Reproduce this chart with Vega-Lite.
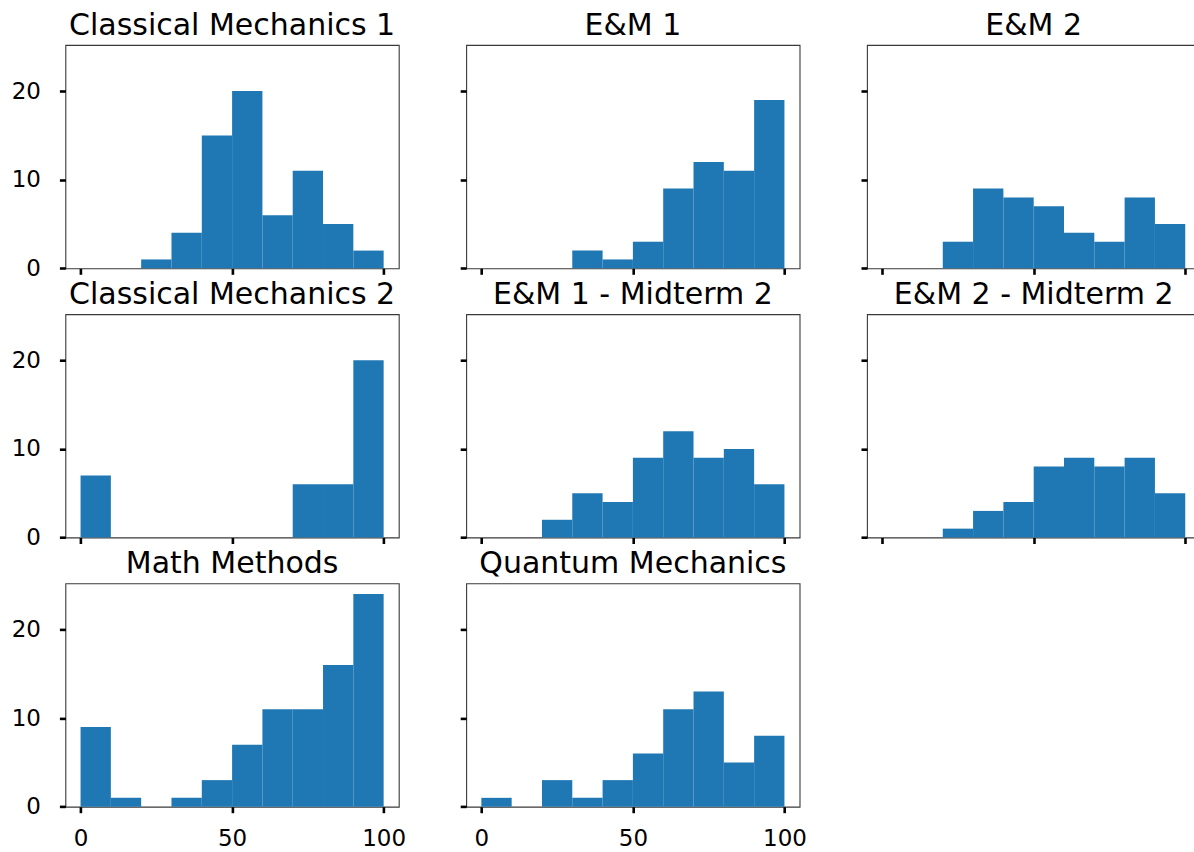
{
  "$schema": "https://vega.github.io/schema/vega-lite/v6.json",
  "padding": {"left": 10.4, "top": 10, "right": 0, "bottom": 0},
  "background": "white",
  "bounds": "flush",
  "columns": 3,
  "spacing": {"row": 45.2, "column": 66.8},
  "data": {
    "values": [
      {"course": "Classical Mechanics 1", "bin_start": 20, "bin_end": 30, "count": 1},
      {"course": "Classical Mechanics 1", "bin_start": 30, "bin_end": 40, "count": 4},
      {"course": "Classical Mechanics 1", "bin_start": 40, "bin_end": 50, "count": 15},
      {"course": "Classical Mechanics 1", "bin_start": 50, "bin_end": 60, "count": 20},
      {"course": "Classical Mechanics 1", "bin_start": 60, "bin_end": 70, "count": 6},
      {"course": "Classical Mechanics 1", "bin_start": 70, "bin_end": 80, "count": 11},
      {"course": "Classical Mechanics 1", "bin_start": 80, "bin_end": 90, "count": 5},
      {"course": "Classical Mechanics 1", "bin_start": 90, "bin_end": 100, "count": 2},
      {"course": "E&M 1", "bin_start": 30, "bin_end": 40, "count": 2},
      {"course": "E&M 1", "bin_start": 40, "bin_end": 50, "count": 1},
      {"course": "E&M 1", "bin_start": 50, "bin_end": 60, "count": 3},
      {"course": "E&M 1", "bin_start": 60, "bin_end": 70, "count": 9},
      {"course": "E&M 1", "bin_start": 70, "bin_end": 80, "count": 12},
      {"course": "E&M 1", "bin_start": 80, "bin_end": 90, "count": 11},
      {"course": "E&M 1", "bin_start": 90, "bin_end": 100, "count": 19},
      {"course": "E&M 2", "bin_start": 20, "bin_end": 30, "count": 3},
      {"course": "E&M 2", "bin_start": 30, "bin_end": 40, "count": 9},
      {"course": "E&M 2", "bin_start": 40, "bin_end": 50, "count": 8},
      {"course": "E&M 2", "bin_start": 50, "bin_end": 60, "count": 7},
      {"course": "E&M 2", "bin_start": 60, "bin_end": 70, "count": 4},
      {"course": "E&M 2", "bin_start": 70, "bin_end": 80, "count": 3},
      {"course": "E&M 2", "bin_start": 80, "bin_end": 90, "count": 8},
      {"course": "E&M 2", "bin_start": 90, "bin_end": 100, "count": 5},
      {"course": "Classical Mechanics 2", "bin_start": 0, "bin_end": 10, "count": 7},
      {"course": "Classical Mechanics 2", "bin_start": 70, "bin_end": 80, "count": 6},
      {"course": "Classical Mechanics 2", "bin_start": 80, "bin_end": 90, "count": 6},
      {"course": "Classical Mechanics 2", "bin_start": 90, "bin_end": 100, "count": 20},
      {"course": "E&M 1 - Midterm 2", "bin_start": 20, "bin_end": 30, "count": 2},
      {"course": "E&M 1 - Midterm 2", "bin_start": 30, "bin_end": 40, "count": 5},
      {"course": "E&M 1 - Midterm 2", "bin_start": 40, "bin_end": 50, "count": 4},
      {"course": "E&M 1 - Midterm 2", "bin_start": 50, "bin_end": 60, "count": 9},
      {"course": "E&M 1 - Midterm 2", "bin_start": 60, "bin_end": 70, "count": 12},
      {"course": "E&M 1 - Midterm 2", "bin_start": 70, "bin_end": 80, "count": 9},
      {"course": "E&M 1 - Midterm 2", "bin_start": 80, "bin_end": 90, "count": 10},
      {"course": "E&M 1 - Midterm 2", "bin_start": 90, "bin_end": 100, "count": 6},
      {"course": "E&M 2 - Midterm 2", "bin_start": 20, "bin_end": 30, "count": 1},
      {"course": "E&M 2 - Midterm 2", "bin_start": 30, "bin_end": 40, "count": 3},
      {"course": "E&M 2 - Midterm 2", "bin_start": 40, "bin_end": 50, "count": 4},
      {"course": "E&M 2 - Midterm 2", "bin_start": 50, "bin_end": 60, "count": 8},
      {"course": "E&M 2 - Midterm 2", "bin_start": 60, "bin_end": 70, "count": 9},
      {"course": "E&M 2 - Midterm 2", "bin_start": 70, "bin_end": 80, "count": 8},
      {"course": "E&M 2 - Midterm 2", "bin_start": 80, "bin_end": 90, "count": 9},
      {"course": "E&M 2 - Midterm 2", "bin_start": 90, "bin_end": 100, "count": 5},
      {"course": "Math Methods", "bin_start": 0, "bin_end": 10, "count": 9},
      {"course": "Math Methods", "bin_start": 10, "bin_end": 20, "count": 1},
      {"course": "Math Methods", "bin_start": 30, "bin_end": 40, "count": 1},
      {"course": "Math Methods", "bin_start": 40, "bin_end": 50, "count": 3},
      {"course": "Math Methods", "bin_start": 50, "bin_end": 60, "count": 7},
      {"course": "Math Methods", "bin_start": 60, "bin_end": 70, "count": 11},
      {"course": "Math Methods", "bin_start": 70, "bin_end": 80, "count": 11},
      {"course": "Math Methods", "bin_start": 80, "bin_end": 90, "count": 16},
      {"course": "Math Methods", "bin_start": 90, "bin_end": 100, "count": 24},
      {"course": "Quantum Mechanics", "bin_start": 0, "bin_end": 10, "count": 1},
      {"course": "Quantum Mechanics", "bin_start": 20, "bin_end": 30, "count": 3},
      {"course": "Quantum Mechanics", "bin_start": 30, "bin_end": 40, "count": 1},
      {"course": "Quantum Mechanics", "bin_start": 40, "bin_end": 50, "count": 3},
      {"course": "Quantum Mechanics", "bin_start": 50, "bin_end": 60, "count": 6},
      {"course": "Quantum Mechanics", "bin_start": 60, "bin_end": 70, "count": 11},
      {"course": "Quantum Mechanics", "bin_start": 70, "bin_end": 80, "count": 13},
      {"course": "Quantum Mechanics", "bin_start": 80, "bin_end": 90, "count": 5},
      {"course": "Quantum Mechanics", "bin_start": 90, "bin_end": 100, "count": 8}
    ]
  },
  "concat": [
    {
      "title": "Classical Mechanics 1",
      "width": 333.4, "height": 223.3,
      "transform": [{"filter": {"field": "course", "equal": "Classical Mechanics 1"}}],
      "mark": {"type": "bar", "color": "#1f77b4", "orient": "vertical"},
      "encoding": {
        "x": {"field": "bin_start", "type": "quantitative", "scale": {"domain": [-5, 105], "nice": false, "zero": false, "padding": 0}, "axis": {"values": [0, 50, 100], "labels": false}},
        "x2": {"field": "bin_end"},
        "y": {"field": "count", "type": "quantitative", "scale": {"domain": [0, 25.2], "nice": false, "padding": 0}, "axis": {"values": [0, 10, 20], "labels": true}},
        "y2": {"datum": 0}
      }
    },
    {
      "title": "E&M 1",
      "width": 333.4, "height": 223.3,
      "transform": [{"filter": {"field": "course", "equal": "E&M 1"}}],
      "mark": {"type": "bar", "color": "#1f77b4", "orient": "vertical"},
      "encoding": {
        "x": {"field": "bin_start", "type": "quantitative", "scale": {"domain": [-5, 105], "nice": false, "zero": false, "padding": 0}, "axis": {"values": [0, 50, 100], "labels": false}},
        "x2": {"field": "bin_end"},
        "y": {"field": "count", "type": "quantitative", "scale": {"domain": [0, 25.2], "nice": false, "padding": 0}, "axis": {"values": [0, 10, 20], "labels": false}},
        "y2": {"datum": 0}
      }
    },
    {
      "title": "E&M 2",
      "width": 333.4, "height": 223.3,
      "transform": [{"filter": {"field": "course", "equal": "E&M 2"}}],
      "mark": {"type": "bar", "color": "#1f77b4", "orient": "vertical"},
      "encoding": {
        "x": {"field": "bin_start", "type": "quantitative", "scale": {"domain": [-5, 105], "nice": false, "zero": false, "padding": 0}, "axis": {"values": [0, 50, 100], "labels": false}},
        "x2": {"field": "bin_end"},
        "y": {"field": "count", "type": "quantitative", "scale": {"domain": [0, 25.2], "nice": false, "padding": 0}, "axis": {"values": [0, 10, 20], "labels": false}},
        "y2": {"datum": 0}
      }
    },
    {
      "title": "Classical Mechanics 2",
      "width": 333.4, "height": 223.3,
      "transform": [{"filter": {"field": "course", "equal": "Classical Mechanics 2"}}],
      "mark": {"type": "bar", "color": "#1f77b4", "orient": "vertical"},
      "encoding": {
        "x": {"field": "bin_start", "type": "quantitative", "scale": {"domain": [-5, 105], "nice": false, "zero": false, "padding": 0}, "axis": {"values": [0, 50, 100], "labels": false}},
        "x2": {"field": "bin_end"},
        "y": {"field": "count", "type": "quantitative", "scale": {"domain": [0, 25.2], "nice": false, "padding": 0}, "axis": {"values": [0, 10, 20], "labels": true}},
        "y2": {"datum": 0}
      }
    },
    {
      "title": "E&M 1 - Midterm 2",
      "width": 333.4, "height": 223.3,
      "transform": [{"filter": {"field": "course", "equal": "E&M 1 - Midterm 2"}}],
      "mark": {"type": "bar", "color": "#1f77b4", "orient": "vertical"},
      "encoding": {
        "x": {"field": "bin_start", "type": "quantitative", "scale": {"domain": [-5, 105], "nice": false, "zero": false, "padding": 0}, "axis": {"values": [0, 50, 100], "labels": false}},
        "x2": {"field": "bin_end"},
        "y": {"field": "count", "type": "quantitative", "scale": {"domain": [0, 25.2], "nice": false, "padding": 0}, "axis": {"values": [0, 10, 20], "labels": false}},
        "y2": {"datum": 0}
      }
    },
    {
      "title": "E&M 2 - Midterm 2",
      "width": 333.4, "height": 223.3,
      "transform": [{"filter": {"field": "course", "equal": "E&M 2 - Midterm 2"}}],
      "mark": {"type": "bar", "color": "#1f77b4", "orient": "vertical"},
      "encoding": {
        "x": {"field": "bin_start", "type": "quantitative", "scale": {"domain": [-5, 105], "nice": false, "zero": false, "padding": 0}, "axis": {"values": [0, 50, 100], "labels": false}},
        "x2": {"field": "bin_end"},
        "y": {"field": "count", "type": "quantitative", "scale": {"domain": [0, 25.2], "nice": false, "padding": 0}, "axis": {"values": [0, 10, 20], "labels": false}},
        "y2": {"datum": 0}
      }
    },
    {
      "title": "Math Methods",
      "width": 333.4, "height": 223.3,
      "transform": [{"filter": {"field": "course", "equal": "Math Methods"}}],
      "mark": {"type": "bar", "color": "#1f77b4", "orient": "vertical"},
      "encoding": {
        "x": {"field": "bin_start", "type": "quantitative", "scale": {"domain": [-5, 105], "nice": false, "zero": false, "padding": 0}, "axis": {"values": [0, 50, 100], "labels": true}},
        "x2": {"field": "bin_end"},
        "y": {"field": "count", "type": "quantitative", "scale": {"domain": [0, 25.2], "nice": false, "padding": 0}, "axis": {"values": [0, 10, 20], "labels": true}},
        "y2": {"datum": 0}
      }
    },
    {
      "title": "Quantum Mechanics",
      "width": 333.4, "height": 223.3,
      "transform": [{"filter": {"field": "course", "equal": "Quantum Mechanics"}}],
      "mark": {"type": "bar", "color": "#1f77b4", "orient": "vertical"},
      "encoding": {
        "x": {"field": "bin_start", "type": "quantitative", "scale": {"domain": [-5, 105], "nice": false, "zero": false, "padding": 0}, "axis": {"values": [0, 50, 100], "labels": true}},
        "x2": {"field": "bin_end"},
        "y": {"field": "count", "type": "quantitative", "scale": {"domain": [0, 25.2], "nice": false, "padding": 0}, "axis": {"values": [0, 10, 20], "labels": false}},
        "y2": {"datum": 0}
      }
    }
  ],
  "config": {
    "font": "DejaVu Sans",
    "view": {"stroke": "#3a3a3a", "strokeWidth": 1.1},
    "bar": {"strokeWidth": 0},
    "axis": {
      "domain": false,
      "grid": false,
      "ticks": true,
      "tickColor": "black",
      "tickSize": 6,
      "tickWidth": 2.6,
      "labelFont": "DejaVu Sans",
      "labelFontSize": 23,
      "labelColor": "black",
      "labelPadding": 19,
      "labelFlush": false,
      "labelOverlap": false,
      "title": null
    },
    "axisX": {"labelPadding": 15},
    "title": {
      "font": "DejaVu Sans",
      "fontSize": 30,
      "fontWeight": "normal",
      "color": "black",
      "anchor": "middle",
      "frame": "group",
      "baseline": "alphabetic",
      "offset": 4
    }
  }
}
